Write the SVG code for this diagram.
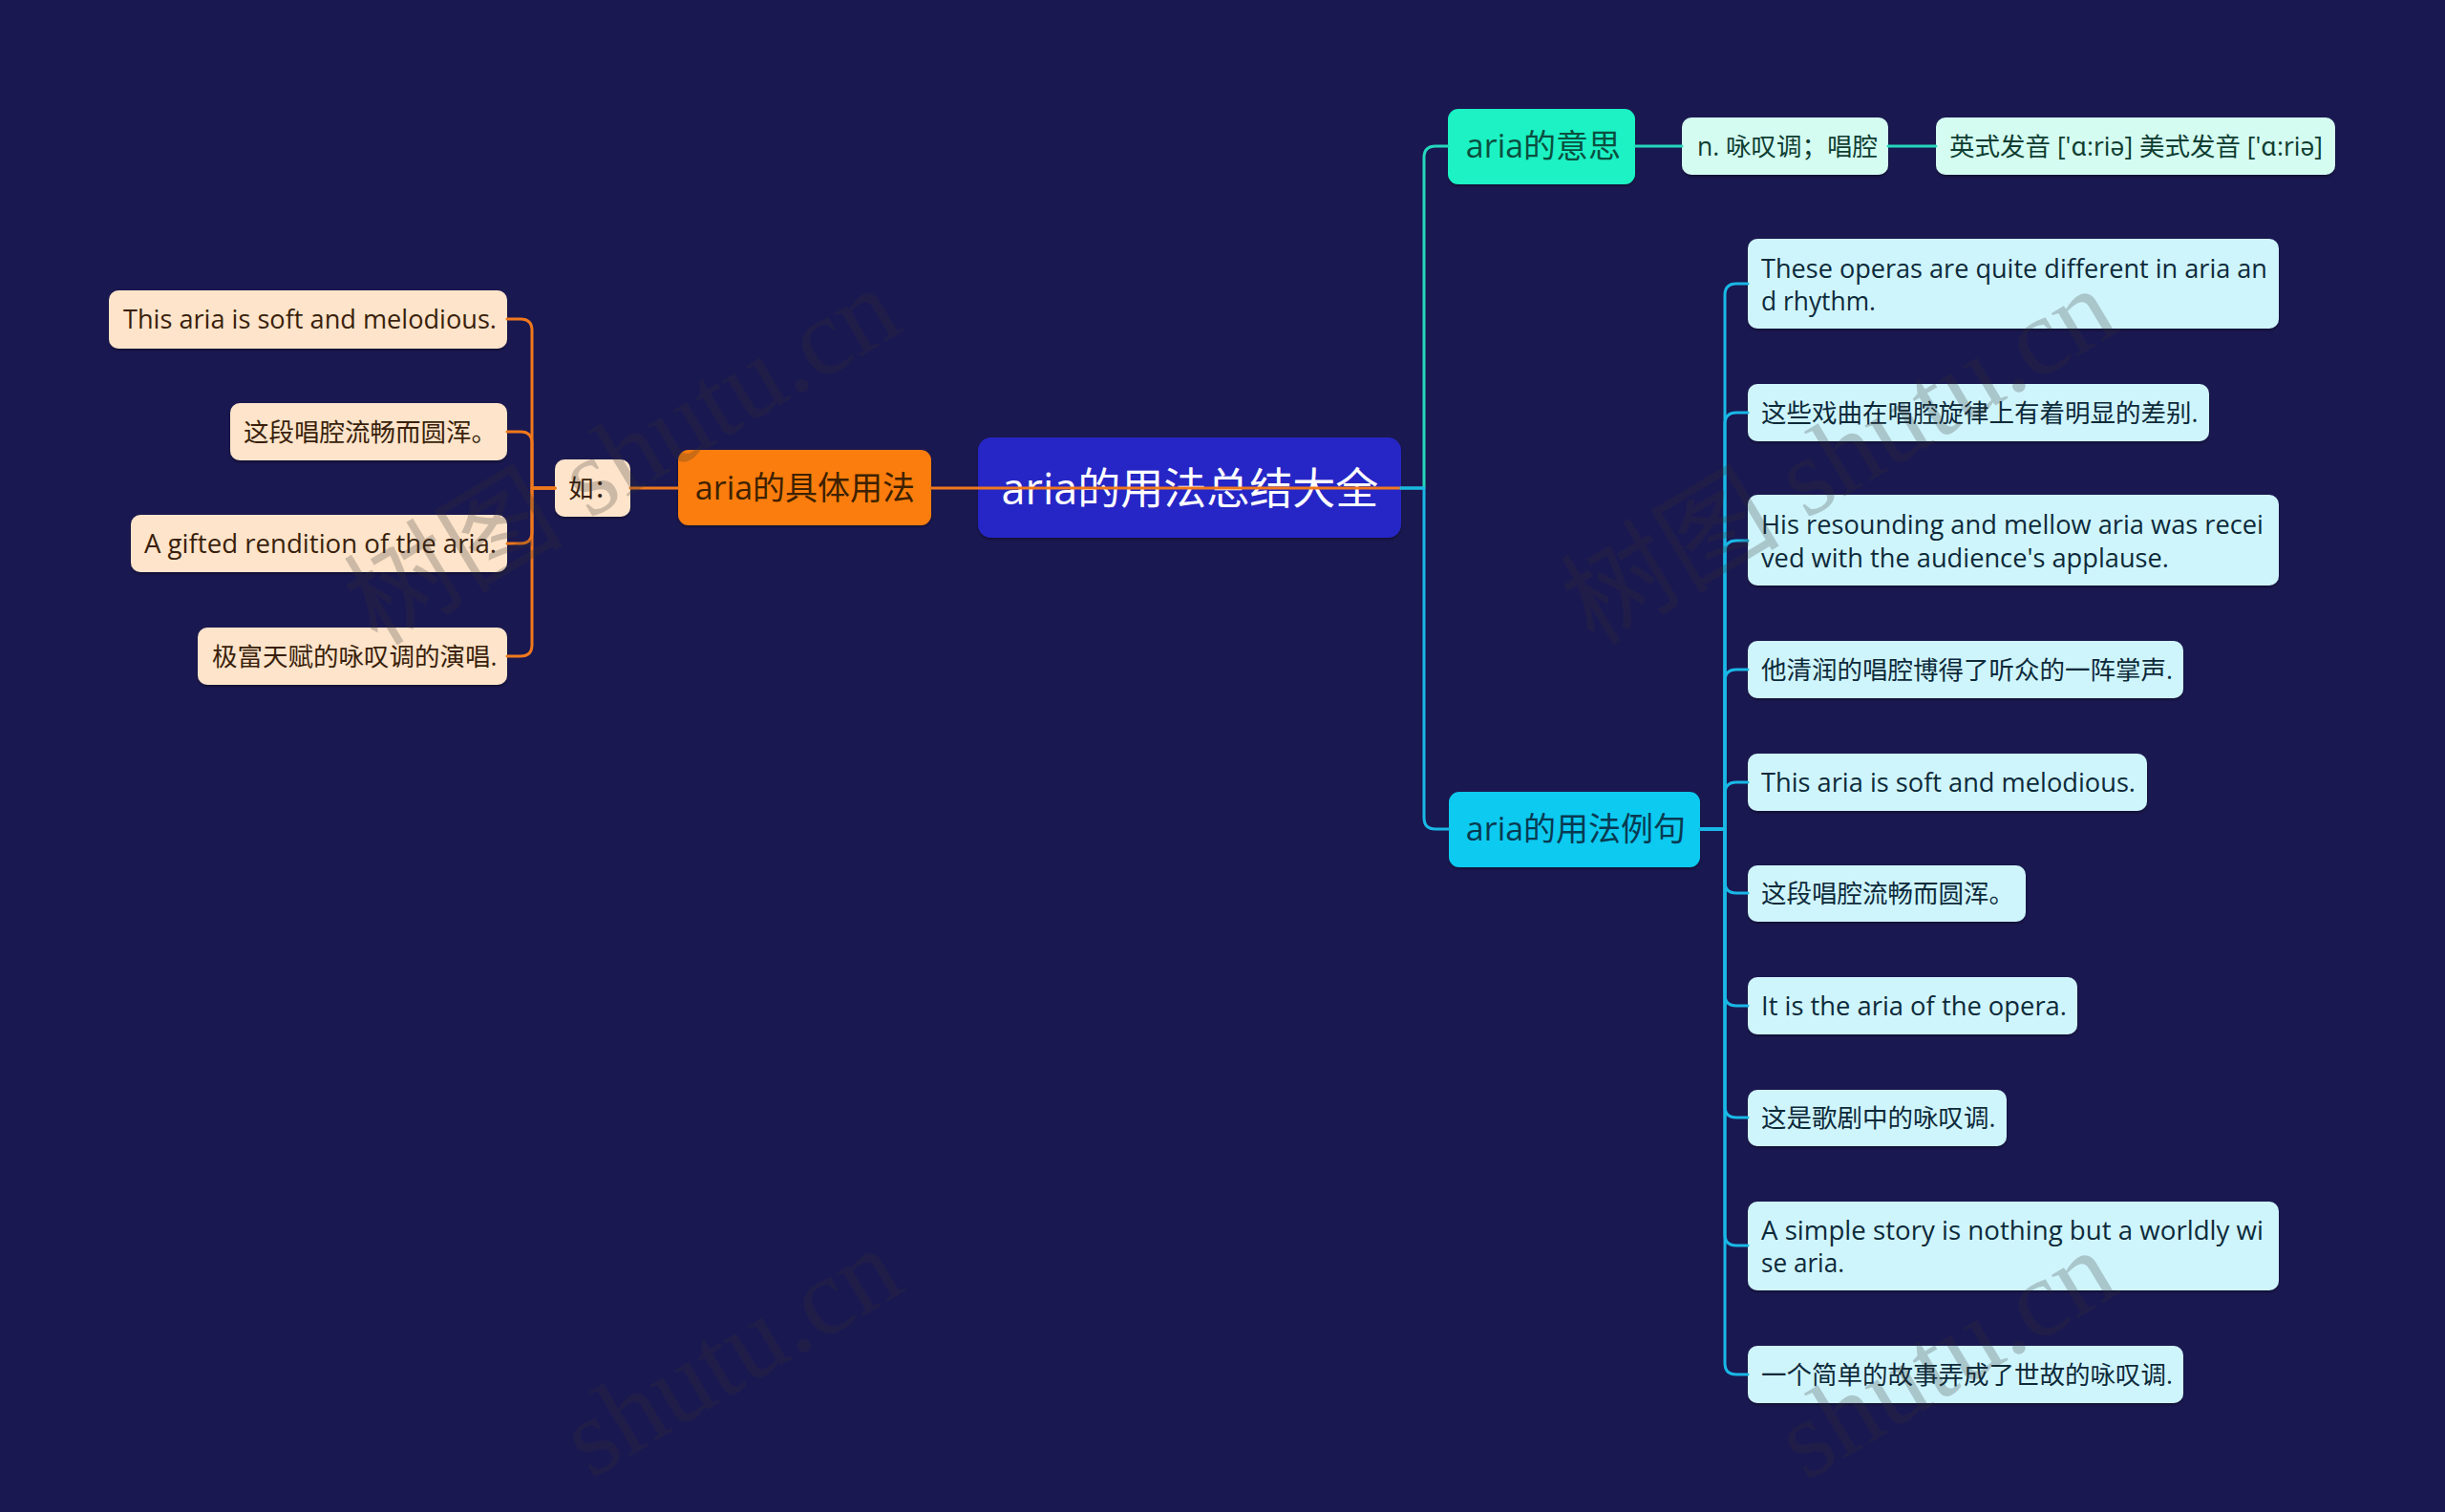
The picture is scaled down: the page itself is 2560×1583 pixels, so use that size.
<svg xmlns="http://www.w3.org/2000/svg" width="2560" height="1583" viewBox="0 0 2560 1583">
<defs>
<filter id="sh" x="-5%" y="-10%" width="110%" height="130%">
<feDropShadow dx="0" dy="2" stdDeviation="1.5" flood-color="#000000" flood-opacity="0.35"/>
</filter>
</defs>
<style>
text{font-family:"Open Sans","Noto Sans CJK SC",sans-serif;dominant-baseline:central}
.root rect{fill:#2727c6}
.root text{fill:#ffffff;font-size:45px;text-anchor:middle}
.l1 text{font-size:34px;text-anchor:middle}
.or rect{fill:#fb7d0e}
.or text{fill:#3d2100}
.pe rect{fill:#fde4ca}
.pe text{fill:#3a1f0c;font-size:26.5px}
.tq rect{fill:#1bf2c4}
.tq text{fill:#0a4f3f}
.mint rect{fill:#d4fcf1}
.mint text{fill:#0f3d31;font-size:26.5px}
.cy rect{fill:#0ccaf0}
.cy text{fill:#083a52}
.lc rect{fill:#cff5fc}
.lc text{fill:#0d2a3a;font-size:26.5px}
rect{filter:url(#sh)}
.c{fill:none;stroke-width:3;stroke-linecap:round;stroke-linejoin:round}
.co{stroke:#f0781c}
.ct{stroke:#24d8bc}
.cc{stroke:#19b8e6}
.wm{font-family:"Liberation Serif","Noto Sans CJK SC",serif;font-size:115px;fill:#333333;opacity:0.24;text-anchor:end;dominant-baseline:alphabetic}
</style>
<rect x="0" y="0" width="2560" height="1583" fill="#1a1851" style="filter:none"/>

<g id="nodes">
<g id="root" class="root"><rect x="1024" y="458" width="443" height="105" rx="14"/><text x="1246" y="510">aria的用法总结大全</text></g>

<g id="n-usage" class="l1 or"><rect x="710" y="471" width="265" height="79" rx="11"/><text x="843" y="510">aria的具体用法</text></g>
<g id="n-ru" class="pe"><rect x="581" y="481" width="79" height="60" rx="10"/><text x="595" y="511">如：</text></g>
<g id="n-l1" class="pe"><rect x="114" y="304" width="417" height="61" rx="10"/><text x="129" y="334" textLength="391" lengthAdjust="spacingAndGlyphs">This aria is soft and melodious.</text></g>
<g id="n-l2" class="pe"><rect x="241" y="422" width="290" height="60" rx="10"/><text x="255" y="452">这段唱腔流畅而圆浑。</text></g>
<g id="n-l3" class="pe"><rect x="137" y="539" width="394" height="60" rx="10"/><text x="151" y="569" textLength="369" lengthAdjust="spacingAndGlyphs">A gifted rendition of the aria.</text></g>
<g id="n-l4" class="pe"><rect x="207" y="657" width="324" height="60" rx="10"/><text x="222" y="687">极富天赋的咏叹调的演唱.</text></g>

<g id="n-meaning" class="l1 tq"><rect x="1516" y="114" width="196" height="79" rx="11"/><text x="1616" y="152">aria的意思</text></g>
<g id="n-m1" class="mint"><rect x="1761" y="123" width="216" height="60" rx="10"/><text x="1777" y="153">n. 咏叹调；唱腔</text></g>
<g id="n-m2" class="mint"><rect x="2027" y="123" width="418" height="60" rx="10"/><text x="2041" y="153" textLength="391" lengthAdjust="spacingAndGlyphs">英式发音 ['ɑ:riə] 美式发音 ['ɑ:riə]</text></g>

<g id="n-examples" class="l1 cy"><rect x="1517" y="829" width="263" height="79" rx="11"/><text x="1650" y="867">aria的用法例句</text></g>
<g id="n-e1" class="lc"><rect x="1830" y="250" width="556" height="94" rx="10"/><text x="1844" y="281" textLength="530" lengthAdjust="spacingAndGlyphs">These operas are quite different in aria an</text><text x="1844" y="315" textLength="120" lengthAdjust="spacingAndGlyphs">d rhythm.</text></g>
<g id="n-e2" class="lc"><rect x="1830" y="402" width="483" height="60" rx="10"/><text x="1844" y="432">这些戏曲在唱腔旋律上有着明显的差别.</text></g>
<g id="n-e3" class="lc"><rect x="1830" y="518" width="556" height="95" rx="10"/><text x="1844" y="549" textLength="526" lengthAdjust="spacingAndGlyphs">His resounding and mellow aria was recei</text><text x="1844" y="584" textLength="427" lengthAdjust="spacingAndGlyphs">ved with the audience's applause.</text></g>
<g id="n-e4" class="lc"><rect x="1830" y="671" width="456" height="60" rx="10"/><text x="1844" y="701">他清润的唱腔博得了听众的一阵掌声.</text></g>
<g id="n-e5" class="lc"><rect x="1830" y="789" width="418" height="60" rx="10"/><text x="1844" y="819" textLength="392" lengthAdjust="spacingAndGlyphs">This aria is soft and melodious.</text></g>
<g id="n-e6" class="lc"><rect x="1830" y="906" width="291" height="59" rx="10"/><text x="1844" y="935">这段唱腔流畅而圆浑。</text></g>
<g id="n-e7" class="lc"><rect x="1830" y="1023" width="345" height="60" rx="10"/><text x="1844" y="1053" textLength="320" lengthAdjust="spacingAndGlyphs">It is the aria of the opera.</text></g>
<g id="n-e8" class="lc"><rect x="1830" y="1141" width="271" height="59" rx="10"/><text x="1844" y="1170">这是歌剧中的咏叹调.</text></g>
<g id="n-e9" class="lc"><rect x="1830" y="1258" width="556" height="93" rx="10"/><text x="1844" y="1288" textLength="526" lengthAdjust="spacingAndGlyphs">A simple story is nothing but a worldly wi</text><text x="1844" y="1322" textLength="87" lengthAdjust="spacingAndGlyphs">se aria.</text></g>
<g id="n-e10" class="lc"><rect x="1830" y="1409" width="456" height="60" rx="10"/><text x="1844" y="1439">一个简单的故事弄成了世故的咏叹调.</text></g>
</g>

<g id="connectors">
<path class="c co" d="M975,511 H1467"/>
<path class="c co" d="M660,511 H710"/>
<path class="c co" d="M581,511 H557 V346 Q557,334 545,334 H531"/>
<path class="c co" d="M581,511 H557 V464 Q557,452 545,452 H531"/>
<path class="c co" d="M581,511 H557 V557 Q557,569 545,569 H531"/>
<path class="c co" d="M581,511 H557 V675 Q557,687 545,687 H531"/>

<path class="c ct" d="M1467,511 H1491 V165 Q1491,153 1503,153 H1516"/>
<path class="c ct" d="M1712,153 H1761"/>
<path class="c ct" d="M1977,153 H2027"/>
<path class="c cc" d="M1467,511 H1491 V856 Q1491,868 1503,868 H1517"/>

<path class="c cc" d="M1780,868 H1806 V309 Q1806,297 1818,297 H1830"/>
<path class="c cc" d="M1780,868 H1806 V444 Q1806,432 1818,432 H1830"/>
<path class="c cc" d="M1780,868 H1806 V578 Q1806,566 1818,566 H1830"/>
<path class="c cc" d="M1780,868 H1806 V713 Q1806,701 1818,701 H1830"/>
<path class="c cc" d="M1780,868 H1806 V831 Q1806,819 1818,819 H1830"/>
<path class="c cc" d="M1780,868 H1806 V923 Q1806,935 1818,935 H1830"/>
<path class="c cc" d="M1780,868 H1806 V1041 Q1806,1053 1818,1053 H1830"/>
<path class="c cc" d="M1780,868 H1806 V1158 Q1806,1170 1818,1170 H1830"/>
<path class="c cc" d="M1780,868 H1806 V1292 Q1806,1304 1818,1304 H1830"/>
<path class="c cc" d="M1780,868 H1806 V1427 Q1806,1439 1818,1439 H1830"/>
</g>

<g id="watermark">
<text class="wm" x="948" y="345" transform="rotate(-31 948 345)">树图 shutu.cn</text>
<text class="wm" x="2222" y="345" transform="rotate(-31 2222 345)">树图 shutu.cn</text>
<text class="wm" x="950" y="1350" transform="rotate(-31 950 1350)">shutu.cn</text>
<text class="wm" x="2222" y="1352" transform="rotate(-31 2222 1352)">shutu.cn</text>
</g>
</svg>
